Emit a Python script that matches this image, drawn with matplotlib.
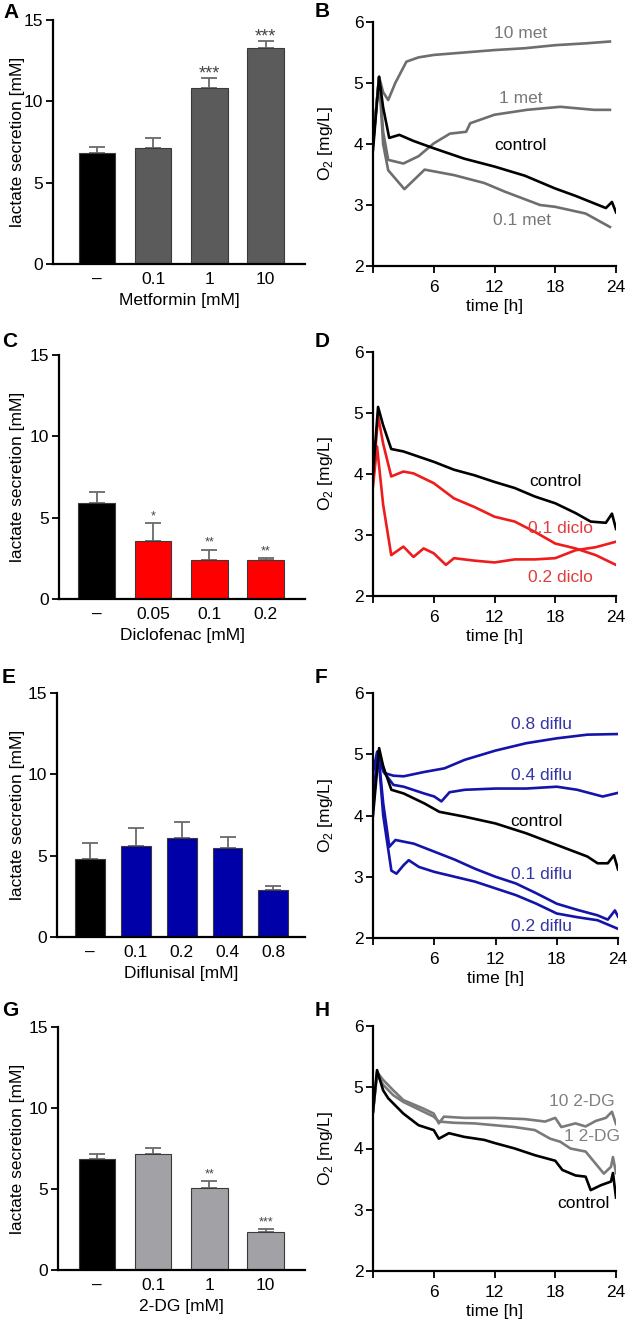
import matplotlib
matplotlib.use("Agg")
import matplotlib.pyplot as plt

plt.rcParams['font.family'] = ['Liberation Sans', 'DejaVu Sans']
plt.rcParams['mathtext.fontset'] = 'custom'
plt.rcParams['mathtext.rm'] = 'Liberation Sans'
plt.rcParams['font.size'] = 12

# ---------------- data: bar panels ----------------
met_labels = ['–', '0.1', '1', '10']
met_vals = [6.85, 7.12, 10.84, 13.29]
met_err = [0.33, 0.65, 0.61, 0.43]
met_stars = ['', '', '***', '***']

diclo_labels = ['–', '0.05', '0.1', '0.2']
diclo_vals = [5.93, 3.59, 2.42, 2.38]
diclo_err = [0.62, 1.07, 0.62, 0.15]
diclo_stars = ['', '*', '**', '**']

diflu_labels = ['–', '0.1', '0.2', '0.4', '0.8']
diflu_vals = [4.80, 5.58, 6.08, 5.48, 2.87]
diflu_err = [0.97, 1.11, 0.98, 0.66, 0.27]
diflu_stars = ['', '', '', '', '']

dg_labels = ['–', '0.1', '1', '10']
dg_vals = [6.86, 7.19, 5.07, 2.34]
dg_err = [0.27, 0.37, 0.40, 0.17]
dg_stars = ['', '', '**', '***']

# ---------------- data: O2 time courses ----------------
B_ctrl_t = [0, 0.6, 1.0, 1.6, 2.6, 4, 6, 9, 12, 15, 18, 20, 21.5, 23, 23.6, 24]
B_ctrl_v = [3.9, 5.1, 4.6, 4.1, 4.15, 4.05, 3.93, 3.76, 3.63, 3.48, 3.27, 3.15, 3.05, 2.95, 3.05, 2.88]
B_m10_t = [0, 0.6, 1.0, 1.5, 2.2, 3.3, 4.5, 6, 9, 12, 15, 18, 21, 23.4]
B_m10_v = [4.0, 5.1, 4.85, 4.72, 5.0, 5.35, 5.42, 5.46, 5.5, 5.54, 5.57, 5.62, 5.65, 5.68]
B_m1_t = [0, 0.6, 1.0, 1.5, 3, 4.5, 6, 7.6, 9.2, 9.6, 12, 15.2, 18.5, 21.8, 23.4]
B_m1_v = [4.0, 5.1, 4.2, 3.74, 3.68, 3.8, 4.01, 4.17, 4.2, 4.34, 4.48, 4.56, 4.61, 4.56, 4.56]
B_m01_t = [0, 0.6, 1.0, 1.5, 3.1, 5.1, 8, 11, 13, 16.5, 18, 21, 23.4]
B_m01_v = [4.0, 5.1, 4.0, 3.57, 3.26, 3.58, 3.49, 3.36, 3.22, 3.0, 2.97, 2.86, 2.64]

D_ctrl_t = [0, 0.5, 1.0, 1.8, 3, 6, 8, 10, 12, 14, 16, 18, 20, 21.5, 23, 23.6, 24]
D_ctrl_v = [4.0, 5.1, 4.8, 4.41, 4.37, 4.2, 4.07, 3.98, 3.87, 3.77, 3.63, 3.52, 3.36, 3.22, 3.2, 3.35, 3.1]
D_d01_t = [0, 0.5, 1.0, 1.8, 3, 4, 6, 8, 10, 12, 14, 16, 18, 20, 22, 24]
D_d01_v = [3.9, 4.95, 4.5, 3.96, 4.04, 4.01, 3.85, 3.6, 3.46, 3.3, 3.22, 3.05, 2.86, 2.78, 2.67, 2.51]
D_d02_t = [0, 0.4, 1.0, 1.8, 3, 4, 5, 6, 7.2, 8, 10, 12, 14, 16, 18, 20, 22, 24]
D_d02_v = [3.8, 4.45, 3.5, 2.67, 2.81, 2.64, 2.78, 2.7, 2.51, 2.62, 2.58, 2.55, 2.6, 2.6, 2.62, 2.75, 2.8, 2.89]

F_ctrl_t = [0, 0.6, 1.0, 1.8, 3, 5, 6.5, 9, 12, 15, 18, 21, 22, 23, 23.6, 24]
F_ctrl_v = [4.0, 5.1, 4.8, 4.42, 4.36, 4.2, 4.06, 3.98, 3.87, 3.71, 3.52, 3.33, 3.22, 3.22, 3.35, 3.12]
F_f08_t = [0, 0.5, 1.2, 2, 3, 5, 7, 9, 12, 15, 18, 21, 24]
F_f08_v = [4.1, 5.05, 4.69, 4.65, 4.64, 4.71, 4.77, 4.91, 5.06, 5.18, 5.26, 5.32, 5.33]
F_f04_t = [0, 0.4, 1, 2, 3, 5, 6, 6.7, 7.5, 9, 12, 15, 18, 20, 22.5, 24]
F_f04_v = [4.7, 5.04, 4.72, 4.5, 4.47, 4.36, 4.31, 4.23, 4.38, 4.42, 4.44, 4.44, 4.47, 4.42, 4.31, 4.37]
F_f01_t = [0, 0.5, 1.0, 1.6, 2.2, 4, 6, 8, 10, 12, 14, 16, 18, 20, 22, 23, 23.7, 24]
F_f01_v = [4.2, 5.05, 4.2, 3.49, 3.6, 3.54, 3.41, 3.28, 3.13, 3.0, 2.89, 2.73, 2.56, 2.46, 2.37, 2.3, 2.45, 2.35]
F_f02_t = [0, 0.5, 1.0, 1.8, 2.3, 3, 3.5, 4.5, 6, 8, 10, 12, 14, 16, 18, 20, 22, 24]
F_f02_v = [4.2, 5.05, 4.0, 3.1, 3.05, 3.19, 3.27, 3.16, 3.08, 3.0, 2.92, 2.81, 2.7, 2.56, 2.4, 2.34, 2.29, 2.15]

H_ctrl_t = [0, 0.4, 1, 1.5, 3, 4.5, 6, 6.5, 7.5, 9, 11, 12, 14, 16, 18, 18.7, 20, 21, 21.5, 22.5, 23.5, 23.7, 24]
H_ctrl_v = [4.6, 5.28, 4.95, 4.82, 4.57, 4.38, 4.3, 4.16, 4.25, 4.19, 4.14, 4.09, 4.0, 3.89, 3.8, 3.65, 3.56, 3.54, 3.32, 3.4, 3.46, 3.6, 3.2]
H_g10_t = [0, 0.4, 1, 2, 3, 5, 6, 6.5, 7, 9, 12, 15, 17, 18, 18.6, 20, 21, 22, 23, 23.6, 24]
H_g10_v = [4.6, 5.25, 5.12, 4.95, 4.79, 4.65, 4.57, 4.41, 4.52, 4.5, 4.5, 4.48, 4.44, 4.5, 4.35, 4.41, 4.36, 4.45, 4.5, 4.6, 4.4]
H_g1_t = [0, 0.4, 1, 2, 3, 5, 6, 6.5, 8, 10, 12, 14, 16, 17.5, 18.5, 19.5, 21, 22, 22.8, 23.5, 23.7, 24]
H_g1_v = [4.6, 5.2, 5.04, 4.87, 4.76, 4.6, 4.52, 4.44, 4.42, 4.41, 4.38, 4.35, 4.3, 4.16, 4.11, 4.0, 3.95, 3.75, 3.59, 3.7, 3.86, 3.6]

# ---------------- layout ----------------
W, H = 634, 1322
fig = plt.figure(figsize=(W / 100, H / 100), dpi=100)

FS = 12.5


def add_ax(l, r, t, b):
    return fig.add_axes([l / W, 1 - b / H, (r - l) / W, (b - t) / H])


def style(ax):
    for s in ['top', 'right']:
        ax.spines[s].set_visible(False)
    for s in ['left', 'bottom']:
        ax.spines[s].set_linewidth(1.6)
        ax.spines[s].set_color('black')
    ax.tick_params(axis='both', direction='out', length=5, width=1.3,
                   labelsize=FS, color='black', pad=2)


def bar_panel(ax, labels, vals, errs, stars, colors, xlabel, xlim, star_size, star_gap, left_px):
    style(ax)
    x = list(range(len(vals)))
    ax.bar(x, vals, width=0.65, color=colors, edgecolor='#3a3a3a', linewidth=0.8, zorder=2)
    ax.errorbar(x, vals, yerr=[[0] * len(vals), errs], fmt='none', ecolor='#6a6a6a',
                elinewidth=1.3, capsize=5.5, capthick=1.3, zorder=1)
    for xi, v, e, s in zip(x, vals, errs, stars):
        if s:
            ax.text(xi, v + e + star_gap, s, ha='center', va='bottom', fontsize=star_size,
                    color='#444444')
    ax.set_xlim(*xlim)
    ax.set_ylim(0, 15)
    ax.set_yticks([0, 5, 10, 15])
    ax.set_xticks(x)
    ax.set_xticklabels(labels, fontsize=FS)
    ax.tick_params(axis='x', length=0, pad=6)
    ax.set_xlabel(xlabel, fontsize=FS, labelpad=4)
    ax.set_ylabel('lactate secretion [mM]', fontsize=FS)
    ax.yaxis.set_label_coords((25 - left_px) / (305 - left_px), 0.5)


def line_panel(ax):
    style(ax)
    ax.set_xlim(0, 24)
    ax.set_ylim(2, 6)
    ax.set_xticks([0, 6, 12, 18, 24])
    ax.set_xticklabels(['', '6', '12', '18', '24'])
    ax.set_yticks([2, 3, 4, 5, 6])
    ax.tick_params(axis='x', pad=5)
    ax.set_xlabel('time [h]', fontsize=FS, labelpad=3)
    ax.set_ylabel(r'O$_\mathregular{2}$ [mg/L]', fontsize=FS)
    ax.yaxis.set_label_coords(-0.156, 0.5)


LW = 1.9
TS = 12.5
grey_dark = '#5b5b5b'
grey_line = '#6e6e6e'
red_bar = '#ff0000'
red_line = '#ee1c1c'
red_text = '#e23c3c'
blue_bar = '#0000a8'
blue_line = '#1414aa'
blue_text = '#3535a5'
grey_light = '#a2a2a6'
grey_line2 = '#7a7a7a'

# A
axA = add_ax(53, 305, 20, 264)
bar_panel(axA, met_labels, met_vals, met_err, met_stars,
          ['black', grey_dark, grey_dark, grey_dark], 'Metformin [mM]', (-0.78, 3.70), 13, -0.3, 53)

# B
axB = add_ax(373, 616, 22, 266)
line_panel(axB)
axB.plot(B_m10_t, B_m10_v, color=grey_line, lw=LW)
axB.plot(B_m1_t, B_m1_v, color=grey_line, lw=LW)
axB.plot(B_m01_t, B_m01_v, color=grey_line, lw=LW)
axB.plot(B_ctrl_t, B_ctrl_v, color='black', lw=LW)
axB.text(14.6, 5.81, '10 met', color='#777777', ha='center', va='center', fontsize=TS)
axB.text(14.6, 4.75, '1 met', color='#777777', ha='center', va='center', fontsize=TS)
axB.text(14.6, 3.97, 'control', color='black', ha='center', va='center', fontsize=TS)
axB.text(14.7, 2.75, '0.1 met', color='#777777', ha='center', va='center', fontsize=TS)

# C
axC = add_ax(59, 305, 355, 599)
bar_panel(axC, diclo_labels, diclo_vals, diclo_err, diclo_stars,
          ['black', red_bar, red_bar, red_bar], 'Diclofenac [mM]', (-0.67, 3.70), 9, 0.05, 59)

# D
axD = add_ax(373, 616, 352, 596)
line_panel(axD)
axD.plot(D_d02_t, D_d02_v, color=red_line, lw=LW)
axD.plot(D_d01_t, D_d01_v, color=red_line, lw=LW)
axD.plot(D_ctrl_t, D_ctrl_v, color='black', lw=LW)
axD.text(18.0, 3.87, 'control', color='black', ha='center', va='center', fontsize=TS)
axD.text(18.5, 3.10, '0.1 diclo', color=red_text, ha='center', va='center', fontsize=TS)
axD.text(18.5, 2.31, '0.2 diclo', color=red_text, ha='center', va='center', fontsize=TS)

# E
axE = add_ax(57, 305, 693, 937)
bar_panel(axE, diflu_labels, diflu_vals, diflu_err, diflu_stars,
          ['black', blue_bar, blue_bar, blue_bar, blue_bar], 'Diflunisal [mM]', (-0.72, 4.69), 9, 0.05, 57)

# F
axF = add_ax(373, 618, 693, 938)
line_panel(axF)
axF.plot(F_f08_t, F_f08_v, color=blue_line, lw=LW)
axF.plot(F_f04_t, F_f04_v, color=blue_line, lw=LW)
axF.plot(F_f01_t, F_f01_v, color=blue_line, lw=LW)
axF.plot(F_f02_t, F_f02_v, color=blue_line, lw=LW)
axF.plot(F_ctrl_t, F_ctrl_v, color='black', lw=LW)
axF.text(16.5, 5.48, '0.8 diflu', color=blue_text, ha='center', va='center', fontsize=TS)
axF.text(16.5, 4.66, '0.4 diflu', color=blue_text, ha='center', va='center', fontsize=TS)
axF.text(16.0, 3.90, 'control', color='black', ha='center', va='center', fontsize=TS)
axF.text(16.5, 3.03, '0.1 diflu', color=blue_text, ha='center', va='center', fontsize=TS)
axF.text(16.5, 2.18, '0.2 diflu', color=blue_text, ha='center', va='center', fontsize=TS)

# G
axG = add_ax(58, 305, 1027, 1270)
bar_panel(axG, dg_labels, dg_vals, dg_err, dg_stars,
          ['black', grey_light, grey_light, grey_light], '2-DG [mM]', (-0.69, 3.70), 9, 0.05, 58)

# H
axH = add_ax(373, 616, 1026, 1271)
line_panel(axH)
axH.plot(H_g10_t, H_g10_v, color=grey_line2, lw=LW)
axH.plot(H_g1_t, H_g1_v, color=grey_line2, lw=LW)
axH.plot(H_ctrl_t, H_ctrl_v, color='black', lw=LW)
axH.text(20.6, 4.76, '10 2-DG', color='#808080', ha='center', va='center', fontsize=TS)
axH.text(21.6, 4.19, '1 2-DG', color='#808080', ha='center', va='center', fontsize=TS)
axH.text(20.8, 3.10, 'control', color='black', ha='center', va='center', fontsize=TS)

# panel letters
letters = [('A', 3, 3), ('B', 315, 2), ('C', 2, 332), ('D', 315, 332),
           ('E', 2, 668), ('F', 315, 668), ('G', 2, 1001), ('H', 315, 1001)]
for L, px, py in letters:
    fig.text(px / W, 1 - py / H, L, fontsize=15, fontweight='bold', ha='left', va='top')

fig.savefig('out.png', dpi=100)
